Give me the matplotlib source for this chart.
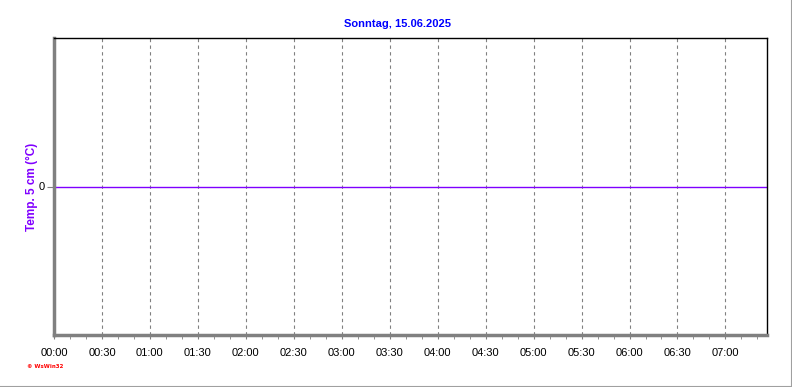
# -*- coding: utf-8 -*-
import numpy as np
import matplotlib.pyplot as plt
from matplotlib.ticker import MultipleLocator, FixedLocator

# data
tick_minutes = list(range(0, 421, 30))
tick_labels = ['%02d:%02d' % (m // 60, m % 60) for m in tick_minutes]
temp_x = [0, 446]
temp_y = [0, 0]
title = 'Sonntag, 15.06.2025'
ylabel = 'Temp. 5 cm (°C)'

fig = plt.figure(figsize=(7.92, 3.87), dpi=100)
W, H = 792, 387
ax = fig.add_axes([54 / W, 1 - 335 / H, (767 - 54) / W, (335 - 38) / H])

ax.plot(temp_x, temp_y, color='#7f00ff', lw=1)
ax.set_xlim(0, 446)
ax.set_ylim(-1, 1)

ax.xaxis.set_major_locator(FixedLocator(tick_minutes))
ax.set_xticklabels(tick_labels, fontsize=8, family='Liberation Sans')
ax.xaxis.set_minor_locator(MultipleLocator(10))
ax.tick_params(axis='x', which='major', length=3, color='#808080', pad=6)
ax.tick_params(axis='x', which='minor', length=3, color='#808080')
ax.set_yticks([0])
ax.set_yticklabels(['0'], fontsize=8, family='Liberation Sans')
ax.tick_params(axis='y', length=5, color='#808080', pad=2)

ax.grid(axis='x', which='major', color='#808080', ls=(0, (3, 3)), lw=0.8)

for s in ['left', 'bottom']:
    ax.spines[s].set_color('#808080')
    ax.spines[s].set_linewidth(2.5)
for s in ['top', 'right']:
    ax.spines[s].set_color('black')
    ax.spines[s].set_linewidth(1)

fig.text(397 / W, 1 - 24 / H, title, color='#0000ff', fontsize=8, fontweight='bold',
         family='Liberation Sans', ha='center', va='center')
fig.text(32 / W, 1 - 187 / H, ylabel, color='#8000ff', fontsize=8.5, fontweight='bold',
         family='Liberation Sans', rotation=90, ha='center', va='center')
fig.text(27 / W, 1 - 367 / H, '© WsWin32', color='#ff0000', fontsize=4, fontweight='bold',
         family='DejaVu Sans', ha='left', va='center')

# frame lines at right and bottom
fig.add_artist(plt.Line2D([0, 1], [0.5 / H, 0.5 / H], color='#a0a0a0', lw=1.5))
fig.add_artist(plt.Line2D([1 - 0.5 / W, 1 - 0.5 / W], [0, 1], color='#a0a0a0', lw=1.5))

fig.savefig('out.png', dpi=100)
